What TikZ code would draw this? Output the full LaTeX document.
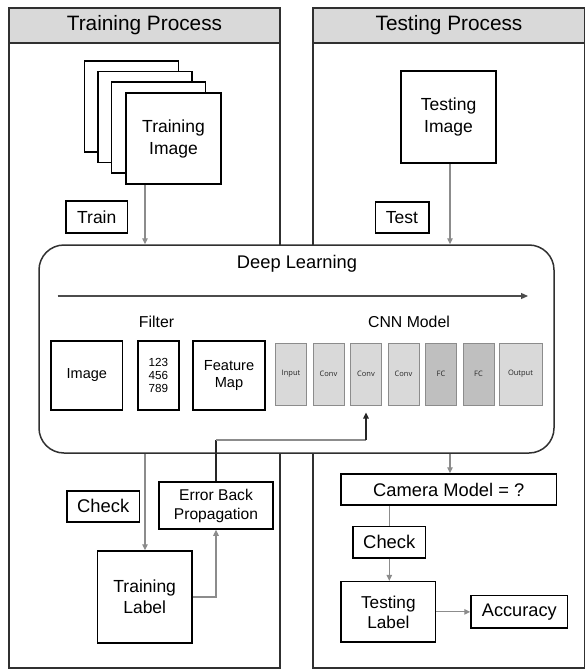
\documentclass[tikz,border=0pt]{standalone}
\usepackage{fontspec}
\setmainfont{Liberation Sans}
\newfontfamily\cnnfont{Open Sans}
\usetikzlibrary{arrows.meta,calc}
\definecolor{hdr}{HTML}{D9D9D9}
\definecolor{cnnlight}{HTML}{D9D9D9}
\definecolor{cnndark}{HTML}{BFBFBF}
\definecolor{conn}{HTML}{8C8C8C}
\definecolor{panelc}{HTML}{303030}
\tikzset{
  panel/.style={draw=panelc, line width=1.5pt, inner sep=0pt},
  header/.style={draw=panelc, fill=hdr, line width=1.5pt, inner sep=0pt, font=\fontsize{20.8}{25}\selectfont},
  box/.style={draw=black, line width=1.5pt, fill=white, inner sep=0pt, align=center, font=\fontsize{17.5}{22}\selectfont},
  cnn/.style={draw=conn, line width=1pt, fill=cnnlight, inner sep=0pt, minimum width=31pt, minimum height=62pt, font=\cnnfont\fontsize{7.5}{9}\selectfont, text=black!85},
  lbl/.style={inner sep=0pt},
  conn/.style={draw=conn, line width=1.2pt},
  arr/.style={conn, -{Triangle[length=6pt,width=5.5pt]}},
  fb/.style={draw=black!85, line width=1.2pt},
}
\begin{document}
\begin{tikzpicture}[x=1pt,y=-1pt]
\useasboundingbox (0,0) rectangle (584,669);
% panels
\node[panel, minimum width=271pt, minimum height=660pt] (lpanel) at (144.5,338) {};
\node[header, minimum width=271pt, minimum height=35pt] (lhead) at (144.5,25.5) {Training Process};
\node[panel, minimum width=272pt, minimum height=660pt] (rpanel) at (449,338) {};
\node[header, minimum width=272pt, minimum height=35pt] (rhead) at (449,25.5) {Testing Process};

% training image stack
\node[box, minimum width=94pt, minimum height=91pt] (st1) at (131.5,106.5) {};
\node[box, minimum width=94pt, minimum height=91pt] (st2) at (145,117) {};
\node[box, minimum width=94pt, minimum height=91pt] (st3) at (158.5,127.5) {};
\node[box, minimum width=95pt, minimum height=91pt] (trimg) at (173.5,138.5) {Training\\Image};
\node[box, minimum width=95pt, minimum height=92pt] (teimg) at (448.5,117) {Testing\\Image};
\node[box, minimum width=61.5pt, minimum height=32pt] (train) at (96.75,217) {Train};
\node[box, minimum width=53.5pt, minimum height=31pt] (test) at (402,217.5) {Test};

% deep learning
\node[draw=panelc, fill=white, line width=1.5pt, rounded corners=25pt, minimum width=515pt, minimum height=208pt, inner sep=0pt] (dl) at (296.5,349) {};
\node[lbl, font=\fontsize{18.3}{22}\selectfont] (dltitle) at (297,264) {Deep Learning};
\coordinate (fa) at (57.6,296);
\coordinate (fb) at (528,296);
\draw[conn, -{Triangle[length=7pt,width=6pt]}, draw=black!70] (fa) -- (fb);
\node[lbl, font=\fontsize{15.8}{19}\selectfont] (filterlbl) at (156.5,322) {Filter};
\node[lbl, font=\fontsize{15.8}{19}\selectfont] (cnnlbl) at (409,322) {CNN Model};
\node[box, minimum width=71.6pt, minimum height=69.3pt, font=\fontsize{14.5}{17}\selectfont] (image) at (86.8,375.4) {Image};
\node[box, minimum width=41pt, minimum height=69.3pt, font=\fontsize{11.7}{13.3}\selectfont] (filter) at (158.3,375.4) {123\\456\\789};
\node[box, minimum width=72pt, minimum height=69.3pt, font=\fontsize{14.6}{16.7}\selectfont] (fmap) at (229,375.4) {Feature\\Map};
\node[cnn] (c1) at (291,374) {Input};
\node[cnn] (c2) at (328.5,374) {Conv};
\node[cnn] (c3) at (366,374) {Conv};
\node[cnn] (c4) at (403.5,374) {Conv};
\node[cnn, fill=cnndark] (c5) at (441,374) {FC};
\node[cnn, fill=cnndark] (c6) at (478.5,374) {FC};
\node[cnn, minimum width=43pt] (c7) at (520.5,374) {Output};

% training lower part
\node[box, minimum width=72.4pt, minimum height=30.7pt, font=\fontsize{18.4}{22}\selectfont] (checkl) at (103.2,506.4) {Check};
\node[box, minimum width=114pt, minimum height=47pt, font=\fontsize{15.6}{19}\selectfont] (ebp) at (216,505.5) {Error Back\\Propagation};
\node[box, minimum width=94.6pt, minimum height=92pt, font=\fontsize{17.5}{21.3}\selectfont] (trlabel) at (144.7,597) {Training\\Label};

% testing lower part
\node[box, minimum width=215.5pt, minimum height=31pt, font=\fontsize{18.3}{22}\selectfont] (cam) at (448.75,489.5) {Camera Model = ?};
\node[box, minimum width=72.6pt, minimum height=31.3pt, font=\fontsize{18.4}{22}\selectfont] (checkr) at (389.3,542.3) {Check};
\node[box, minimum width=94.7pt, minimum height=60.3pt, font=\fontsize{17.2}{20}\selectfont] (telabel) at (388.35,611.85) {Testing\\Label};
\node[box, minimum width=96.6pt, minimum height=32.3pt, font=\fontsize{18.2}{22}\selectfont] (acc) at (519.3,611.85) {Accuracy};

% connectors
\draw[arr] (trimg.south -| 145,0) -- (dl.north -| 145,0);
\draw[arr] (teimg.south -| 450,0) -- (dl.north -| 450,0);
\draw[arr] (dl.south -| 145,0) -- (trlabel.north -| 145,0);
\draw[arr] (dl.south -| 450,0) -- (cam.north -| 450,0);
\draw[conn] (cam.south -| checkr.north) -- (checkr.north);
\draw[arr] (checkr.south) -- (telabel.north -| checkr.south);
\draw[arr] (telabel.east) -- (acc.west);
\draw[arr] (trlabel.east) -| (ebp.south);
\coordinate (fbtop) at ($(c3.south)+(0,7)$);
\coordinate (fbcorner) at (216,440);
\draw[fb] (ebp.north) -- (fbcorner);
\draw[conn] (fbcorner) -- (fbcorner -| fbtop);
\draw[fb, -{Triangle[length=6pt,width=5.5pt]}] (fbcorner -| fbtop) -- (fbtop);
\end{tikzpicture}
\end{document}
